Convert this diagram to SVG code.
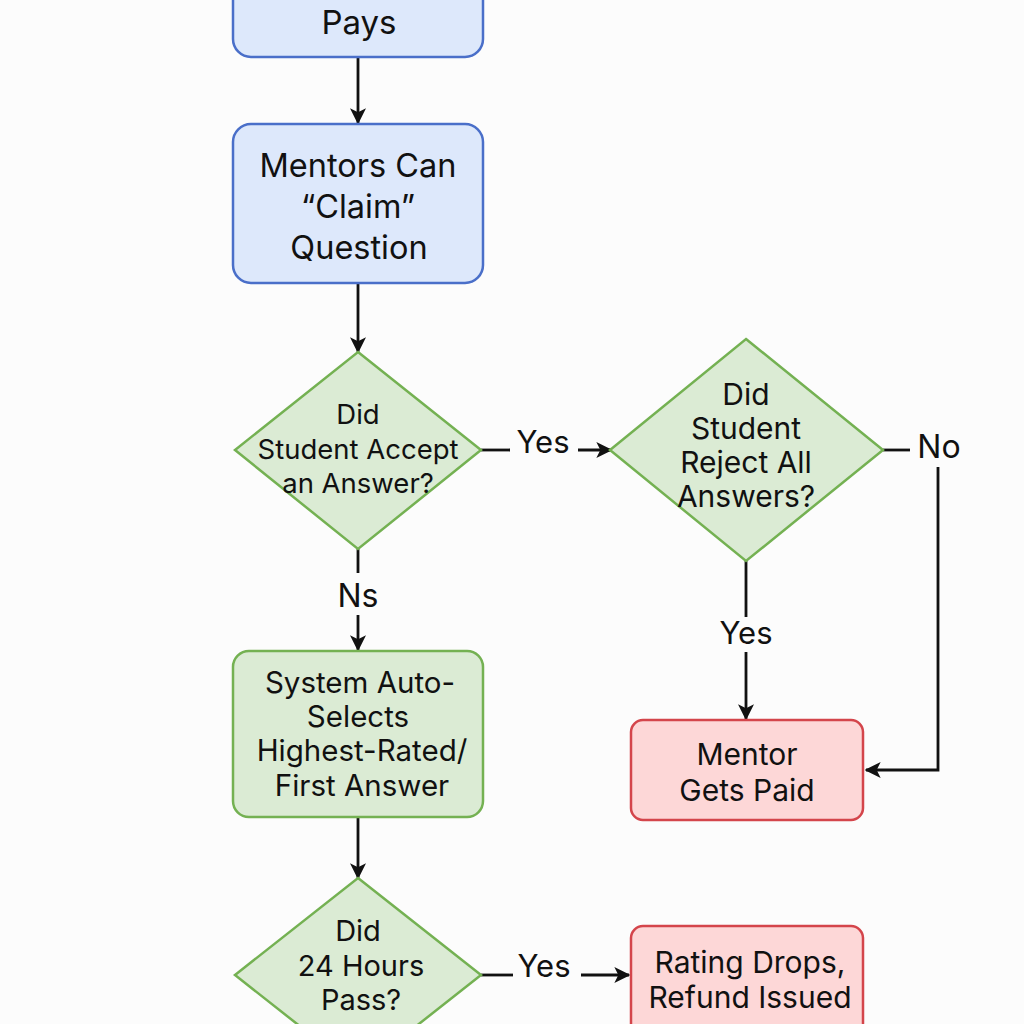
<svg xmlns="http://www.w3.org/2000/svg" width="1024" height="1024" viewBox="0 0 1024 1024">
<defs>
<style>
.t{font-family:Inter,"Noto Sans","Liberation Sans",sans-serif;fill:#111;text-anchor:middle}
.blue{fill:#dde8fb;stroke:#4a6fc9;stroke-width:2.5}
.green{fill:#dbebd4;stroke:#74b152;stroke-width:2.5}
.red{fill:#fdd7d7;stroke:#d4454b;stroke-width:2.5}
.c{fill:none;stroke:#111;stroke-width:2.8}
</style>
<marker id="a" viewBox="0 0 12 12" refX="11" refY="6" markerWidth="16" markerHeight="16" orient="auto" markerUnits="userSpaceOnUse">
<path d="M0,0 L12,6 L0,12 L3,6 z" fill="#111"/>
</marker>
</defs>
<rect width="1024" height="1024" fill="#fcfcfc"/>
<g id="connectors">
<line class="c" x1="358" y1="57" x2="358" y2="123" marker-end="url(#a)"/>
<line class="c" x1="358" y1="283" x2="358" y2="352" marker-end="url(#a)"/>
<line class="c" x1="481" y1="450" x2="510" y2="450"/>
<text class="t" x="543" y="453" font-size="31">Yes</text>
<line class="c" x1="578" y1="450" x2="611" y2="450" marker-end="url(#a)"/>
<line class="c" x1="883" y1="450" x2="910" y2="450"/>
<text class="t" x="939" y="458" font-size="32">No</text>
<polyline class="c" points="938,467 938,770 866,770" marker-end="url(#a)"/>
<line class="c" x1="746" y1="561" x2="746" y2="617"/>
<text class="t" x="746" y="644" font-size="31">Yes</text>
<line class="c" x1="746" y1="652" x2="746" y2="719" marker-end="url(#a)"/>
<line class="c" x1="358" y1="549" x2="358" y2="573"/>
<text class="t" x="358" y="607" font-size="32">Ns</text>
<line class="c" x1="358" y1="615" x2="358" y2="650" marker-end="url(#a)"/>
<line class="c" x1="358" y1="817" x2="358" y2="878" marker-end="url(#a)"/>
<line class="c" x1="481" y1="975" x2="513" y2="975"/>
<text class="t" x="544" y="977" font-size="31">Yes</text>
<line class="c" x1="581" y1="975" x2="629" y2="975" marker-end="url(#a)"/>
</g>
<g id="pays">
<rect class="blue" x="233" y="-60" width="250" height="117" rx="18"/>
<text class="t" x="359" y="34" font-size="33">Pays</text>
</g>
<g id="claim">
<rect class="blue" x="233" y="124" width="250" height="159" rx="18"/>
<text class="t" font-size="32.5"><tspan x="358" y="177">Mentors Can</tspan><tspan x="358" y="218">“Claim”</tspan><tspan x="359" y="259">Question</tspan></text>
</g>
<g id="accept">
<polygon class="green" points="358,352 481,450 358,549 235,450"/>
<text class="t" font-size="27.5"><tspan x="358" y="424">Did</tspan><tspan x="358" y="459">Student Accept</tspan><tspan x="358" y="493">an Answer?</tspan></text>
</g>
<g id="reject">
<polygon class="green" points="746,339 883,450 746,561 610,450"/>
<text class="t" font-size="30"><tspan x="746" y="405">Did</tspan><tspan x="746" y="439">Student</tspan><tspan x="746" y="473">Reject All</tspan><tspan x="746" y="507">Answers?</tspan></text>
</g>
<g id="paid">
<rect class="red" x="631" y="720" width="232" height="100" rx="12"/>
<text class="t" font-size="30"><tspan x="747" y="765">Mentor</tspan><tspan x="747" y="801">Gets Paid</tspan></text>
</g>
<g id="auto">
<rect class="green" x="233" y="651" width="250" height="166" rx="16"/>
<text class="t" font-size="29.5"><tspan x="360" y="693">System Auto-</tspan><tspan x="358" y="727">Selects</tspan><tspan x="362" y="761">Highest-Rated/</tspan><tspan x="362" y="796">First Answer</tspan></text>
</g>
<g id="hours">
<polygon class="green" points="358,878 481,975 358,1072 235,975"/>
<text class="t" font-size="29"><tspan x="358" y="941">Did</tspan><tspan x="361" y="976">24 Hours</tspan><tspan x="361" y="1010">Pass?</tspan></text>
</g>
<g id="refund">
<rect class="red" x="631" y="926" width="232" height="110" rx="12"/>
<text class="t" font-size="30"><tspan x="750" y="973">Rating Drops,</tspan><tspan x="750" y="1008">Refund Issued</tspan></text>
</g>
</svg>
